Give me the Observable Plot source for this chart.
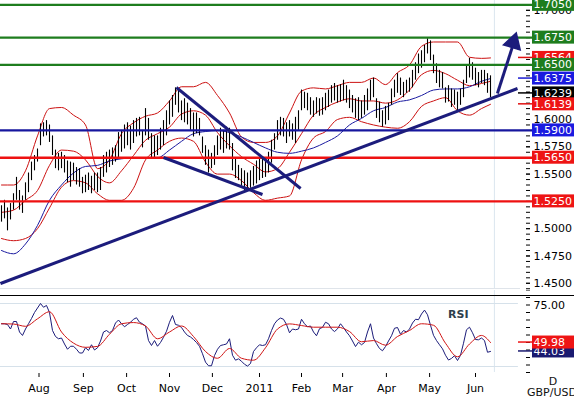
<!DOCTYPE html>
<html><head><meta charset="utf-8">
<script src="https://cdn.jsdelivr.net/npm/d3@7"></script>
<script src="https://cdn.jsdelivr.net/npm/@observablehq/plot@0.6"></script>
<style>
html,body{margin:0;padding:0;background:#fff;}
#chart{position:relative;width:574px;height:397px;overflow:hidden;background:#fff;}
#chart svg{display:block;}
</style></head><body><div id="chart"></div>
<script>
// ---- price bars (bar index = position in arrays) ----
const highs = [1.521,1.526,1.519,1.523,1.532,1.547,1.535,1.530,1.542,1.551,
1.561,1.567,1.573,1.596,1.597,1.599,1.595,1.585,1.572,1.569,
1.570,1.567,1.562,1.561,1.560,1.556,1.555,1.547,1.549,1.551,
1.548,1.551,1.551,1.556,1.567,1.570,1.572,1.574,1.576,1.588,
1.590,1.595,1.597,1.594,1.599,1.601,1.602,1.590,1.610,1.601,
1.587,1.585,1.585,1.592,1.599,1.608,1.617,1.622,1.629,1.627,
1.617,1.619,1.615,1.610,1.606,1.606,1.601,1.584,1.576,1.572,
1.569,1.576,1.585,1.592,1.590,1.593,1.592,1.578,1.564,1.558,
1.555,1.553,1.551,1.553,1.557,1.562,1.564,1.565,1.562,1.570,
1.581,1.587,1.599,1.602,1.601,1.597,1.599,1.596,1.602,1.608,
1.627,1.625,1.624,1.620,1.617,1.620,1.619,1.620,1.624,1.627,
1.631,1.633,1.631,1.632,1.636,1.631,1.627,1.622,1.619,1.620,
1.617,1.622,1.628,1.636,1.638,1.619,1.616,1.608,1.612,1.615,
1.628,1.636,1.642,1.638,1.634,1.636,1.638,1.645,1.652,1.660,
1.663,1.668,1.674,1.672,1.659,1.651,1.645,1.643,1.629,1.631,
1.628,1.627,1.625,1.628,1.636,1.650,1.656,1.652,1.647,1.643,
1.645,1.645,1.642,1.640];
const lows = [1.506,1.509,1.498,1.508,1.517,1.526,1.517,1.514,1.526,1.533,
1.544,1.553,1.561,1.576,1.584,1.585,1.579,1.567,1.555,1.553,
1.555,1.551,1.542,1.538,1.544,1.540,1.538,1.532,1.533,1.535,
1.532,1.535,1.533,1.535,1.547,1.551,1.556,1.558,1.561,1.565,
1.570,1.573,1.576,1.572,1.578,1.584,1.585,1.574,1.585,1.581,
1.565,1.565,1.567,1.572,1.576,1.585,1.595,1.602,1.613,1.606,
1.599,1.597,1.595,1.590,1.584,1.587,1.585,1.569,1.558,1.551,
1.555,1.558,1.567,1.572,1.569,1.573,1.572,1.553,1.546,1.544,
1.539,1.535,1.535,1.537,1.539,1.541,1.544,1.546,1.547,1.551,
1.560,1.572,1.581,1.585,1.584,1.578,1.584,1.581,1.578,1.590,
1.608,1.610,1.608,1.604,1.602,1.605,1.603,1.604,1.608,1.611,
1.615,1.617,1.615,1.616,1.617,1.615,1.610,1.606,1.601,1.599,
1.601,1.604,1.608,1.617,1.620,1.601,1.597,1.593,1.595,1.599,
1.613,1.620,1.624,1.622,1.620,1.624,1.625,1.629,1.636,1.642,
1.647,1.652,1.660,1.654,1.642,1.633,1.629,1.628,1.615,1.616,
1.611,1.613,1.608,1.613,1.620,1.633,1.638,1.636,1.631,1.629,
1.633,1.631,1.624,1.620];

// ---- indicator samples (every 4th bar) ----
const bandIdx = [0,4,8,12,16,20,24,28,32,36,40,44,48,52,56,60,64,68,72,76,80,84,88,92,96,100,104,108,112,116,120,124,128,132,136,140,144,148,152,156,160,163];
const bbUpper = [1.540,1.540,1.553,1.585,1.610,1.611,1.604,1.595,1.555,1.563,1.587,1.597,1.603,1.606,1.617,1.630,1.630,1.634,1.622,1.606,1.584,1.579,1.579,1.585,1.606,1.626,1.629,1.628,1.631,1.634,1.634,1.638,1.632,1.643,1.650,1.667,1.671,1.671,1.671,1.657,1.656,1.6564];
const bbMiddle = [1.515,1.517,1.526,1.535,1.558,1.572,1.571,1.563,1.548,1.542,1.553,1.567,1.581,1.587,1.593,1.605,1.608,1.604,1.588,1.576,1.566,1.559,1.552,1.555,1.570,1.587,1.604,1.611,1.616,1.619,1.617,1.617,1.615,1.618,1.627,1.641,1.645,1.642,1.636,1.631,1.633,1.635];
const bbLower = [1.491,1.489,1.491,1.500,1.519,1.538,1.544,1.542,1.532,1.526,1.526,1.537,1.563,1.572,1.580,1.583,1.580,1.561,1.550,1.550,1.544,1.533,1.526,1.528,1.530,1.563,1.583,1.589,1.600,1.602,1.598,1.595,1.593,1.592,1.598,1.612,1.617,1.620,1.608,1.604,1.610,1.6139];
const movingAvg = [1.480,1.477,1.486,1.503,1.526,1.540,1.551,1.557,1.558,1.562,1.564,1.565,1.565,1.565,1.572,1.580,1.587,1.589,1.590,1.588,1.584,1.579,1.574,1.570,1.569,1.571,1.574,1.579,1.585,1.595,1.601,1.608,1.611,1.616,1.618,1.622,1.627,1.628,1.628,1.630,1.635,1.6375];

// ---- RSI ----
const rsi = [62.5,62.5,62,59,64,64,57,54.7,59,62.5,
66,70,73,76,73.5,74.7,70,58,54,52.5,
53,49,45.5,47.5,47.5,45.5,43,43,46.5,44.7,
48.5,45,46.5,51,57,58,56.5,58,63,65,
62.5,60.5,62,63.5,65.5,66.5,63.5,62.5,61,51.3,
48,51.3,47.5,50,53.5,57.5,63.5,68,62,61.5,
60,57,54.7,53.7,52,50,47.5,42.5,36.9,34.5,
34.5,41.3,45.5,48,48.5,49,52.5,41.5,38.2,39.1,
37.5,35.5,34.3,36,44,46.5,48.5,48,48.5,52.5,
58,62.5,65,66.3,65.5,62,56.5,59,58.5,59,
65.5,62.5,60.5,61,57,54.5,59.2,60.1,63.5,62.5,
59,57.3,59.1,62.5,60,57,54.5,51,47.3,50.2,
48.5,50,57,62.5,53,49.2,46,44.5,47.3,51,
54.5,59.5,60,55.5,58,57,59,63,65.5,65.2,
69,71.6,68.5,61.5,54.8,51.3,48.5,45.8,41.5,38.3,
39.4,41.2,38,41.5,49.5,58.5,60.2,56.5,52,51.8,
53,51.3,43.5,44.03];
const rsiSignal = [62.5,62.3,60.8,65.8,70.5,57,49.6,46.8,47.4,55.5,62.5,63.3,61,52.5,57,61,54,44,39.5,46,39.5,38.2,46.5,59,62.4,61.3,60.2,60.2,60.2,57.3,50.5,51.3,48.2,54,58,62.5,61.5,49.5,40.5,49,54.7,49.98];

// ---- axes ----
const monthLabels = ["Aug","Sep","Oct","Nov","Dec","2011","Feb","Mar","Apr","May","Jun"];
const monthIdx = [12.5,27.3,41.7,56,70.3,86,100,113.7,128.3,142.7,158];
const priceTicks = [1.45,1.475,1.5,1.525,1.55,1.575,1.6,1.625,1.65,1.675,1.7];
const minorPriceTicks = d3.range(1.445, 1.7075, 0.005);
const rsiTickLabels = [75];
const rsiMinorTicks = [30,35,40,45,50,55,60,65,70,75,80,85];
const rsiGrid = [34, 76];
const currentIdx = 164.3;

// ---- levels and annotations ----
const levelsGreen = [1.7050, 1.6750, 1.6500];
const levelsBlue = [1.5900];
const levelsRed = [1.5650, 1.5250];
const boxValues = [1.7050, 1.6750, 1.6564, 1.6500, 1.6375, 1.6239, 1.6139, 1.5900, 1.5650, 1.5250];
const boxColors = ["#1e7d1e","#1e7d1e","#ee1414","#1e7d1e","#1a1ae0","#000000","#ee1414","#1a1ae0","#ee1414","#ee1414"];
const markerValues = [1.6564, 1.6375, 1.6239, 1.6139];
const markerColors = ["#e01010","#1a1ad0","#000000","#e01010"];
const trendX1 = [-0.33, 58.3, 54];
const trendY1 = [1.4498, 1.6293, 1.5652];
const trendX2 = [172, 99.7, 87];
const trendY2 = [1.6284, 1.5368, 1.5313];
const arrowFrom = [165.3, 1.6238];
const arrowTo = [170.3, 1.6665];
const arrowHead = [170.6, 1.6705];
const rsiBoxValues = [44.03, 49.98];
const rsiBoxColors = ["#1a1a70", "#ee1414"];

const barIdx = d3.range(highs.length);
const FONT = "'DejaVu Sans', Verdana, sans-serif";
const baseStyle = {fontFamily: FONT, fontSize: "11px", color: "#000", background: "#fff"};
const xDomain = [-1/3, 524/3];

const main = Plot.plot({
  width: 574, height: 290,
  marginLeft: 0, marginRight: 49, marginTop: 0, marginBottom: 1,
  style: baseStyle,
  x: {domain: xDomain, axis: null},
  y: {domain: [1.4443, 1.709]},
  marks: [
    Plot.ruleX([currentIdx], {stroke: "#dbe6ef", strokeWidth: 1}),
    Plot.ruleY([1.4452], {x1: -0.34, x2: 173, stroke: "#dfe4ea"}),
    Plot.axisY(minorPriceTicks, {anchor: "right", tickSize: 4, tickFormat: () => "", label: null}),
    Plot.axisY(priceTicks, {anchor: "right", tickSize: 4, tickPadding: 4, tickFormat: d => d.toFixed(4), label: null}),
    Plot.line(bandIdx, {x: d => d, y: (d, i) => bbUpper[i], stroke: "#cc1111", strokeWidth: 1, curve: "monotone-x"}),
    Plot.line(bandIdx, {x: d => d, y: (d, i) => bbMiddle[i], stroke: "#cc1111", strokeWidth: 1, curve: "monotone-x"}),
    Plot.line(bandIdx, {x: d => d, y: (d, i) => bbLower[i], stroke: "#cc1111", strokeWidth: 1, curve: "monotone-x"}),
    Plot.line(bandIdx, {x: d => d, y: (d, i) => movingAvg[i], stroke: "#1a1aa0", strokeWidth: 1, curve: "monotone-x"}),
    Plot.ruleX(barIdx, {x: d => d, y1: d => lows[d], y2: d => highs[d], stroke: "#000", strokeWidth: 1.1}),
    Plot.ruleY(levelsGreen, {x1: -0.34, x2: 177, stroke: "#1e7d1e", strokeWidth: 2.2}),
    Plot.ruleY(levelsBlue, {x1: -0.34, x2: 177, stroke: "#16169e", strokeWidth: 2.4}),
    Plot.ruleY(levelsRed, {x1: -0.34, x2: 177, stroke: "#ee1111", strokeWidth: 2.4}),
    Plot.link(trendX1, {x1: d => d, y1: (d, i) => trendY1[i], x2: (d, i) => trendX2[i], y2: (d, i) => trendY2[i], stroke: "#1c1c7c", strokeWidth: 3}),
    Plot.link([arrowFrom], {x1: d => d[0], y1: d => d[1], x2: () => arrowTo[0], y2: () => arrowTo[1], stroke: "#1c1c7c", strokeWidth: 3}),
    Plot.dot([arrowHead], {x: d => d[0], y: d => d[1], symbol: "triangle", r: 6.5, fill: "#1c1c7c", stroke: "#1c1c7c", rotate: 17})
  ]
});

const rsiPlot = Plot.plot({
  width: 574, height: 107,
  marginLeft: 0, marginRight: 49, marginTop: 13, marginBottom: 24,
  style: baseStyle,
  x: {domain: xDomain},
  y: {domain: [76 - 70 / 1.5, 76]},
  marks: [
    Plot.ruleX([currentIdx], {y1: 84.67, y2: 30, stroke: "#dbe6ef"}),
    Plot.ruleY(rsiGrid, {x1: -0.34, x2: 172.3, stroke: "#d6e1ea"}),
    Plot.axisY(rsiMinorTicks, {anchor: "right", tickSize: 4, tickFormat: () => "", label: null}),
    Plot.axisX(monthIdx, {anchor: "bottom", tickSize: 4, tickPadding: 7, tickFormat: d => monthLabels[monthIdx.indexOf(d)], label: null}),
    Plot.line(barIdx, {x: d => d, y: d => rsi[d], stroke: "#1c1c7a", strokeWidth: 1}),
    Plot.line(bandIdx, {x: d => d, y: (d, i) => rsiSignal[i], stroke: "#d01515", strokeWidth: 1, curve: "monotone-x"})
  ]
});

const chart = document.getElementById("chart");
chart.appendChild(main);
chart.appendChild(rsiPlot);

// ---- value boxes on the right axis ----
function addBox(svg, yPix, color, label, textColor) {
  const g = svg.append("g");
  g.append("rect").attr("x", 532).attr("y", yPix - 6.5).attr("width", 42).attr("height", 13).attr("fill", color);
  g.append("text").attr("x", 533.5).attr("y", yPix).attr("dy", "0.37em").attr("text-anchor", "start")
    .attr("fill", textColor || "#fff").style("font-family", FONT).style("font-size", "11px").text(label);
}
function addMarker(svg, yPix, color) {
  svg.append("line").attr("x1", 518).attr("x2", 532).attr("y1", yPix).attr("y2", yPix)
    .attr("stroke", color).attr("stroke-width", 1.5);
}
const ym = main.scale("y");
const sMain = d3.select(main);
markerValues.forEach((v, i) => addMarker(sMain, ym.apply(v), markerColors[i]));
boxValues.forEach((v, i) => addBox(sMain, ym.apply(v), boxColors[i], v.toFixed(4)));

const yr = rsiPlot.scale("y");
const sRsi = d3.select(rsiPlot);
sRsi.append("line").attr("x1", 0).attr("x2", 574).attr("y1", 5.5).attr("y2", 5.5).attr("stroke", "#000").attr("stroke-width", 1.2);
// RSI axis label (75.00): same drawing path as the value boxes, white box with black text
rsiTickLabels.forEach(v => addBox(sRsi, yr.apply(v), "#ffffff", v.toFixed(2), "#000000"));
rsiBoxValues.forEach((v, i) => addMarker(sRsi, yr.apply(v), rsiBoxColors[i]));
rsiBoxValues.forEach((v, i) => addBox(sRsi, yr.apply(v), rsiBoxColors[i], v.toFixed(2)));
sRsi.append("text").attr("x", 448).attr("y", 28).attr("text-anchor", "start").style("font-family", FONT).style("font-size", "11px")
  .style("font-weight", "bold").attr("fill", "#2f3f4c").text("RSI");
sRsi.append("text").attr("x", 553).attr("y", 95).attr("text-anchor", "middle").style("font-family", FONT)
  .style("font-size", "11px").attr("fill", "#111").text("D");
sRsi.append("text").attr("x", 527).attr("y", 106).attr("text-anchor", "start").style("font-family", FONT)
  .style("font-size", "11px").attr("fill", "#111").text("GBP/USD");
</script>
</body></html>
